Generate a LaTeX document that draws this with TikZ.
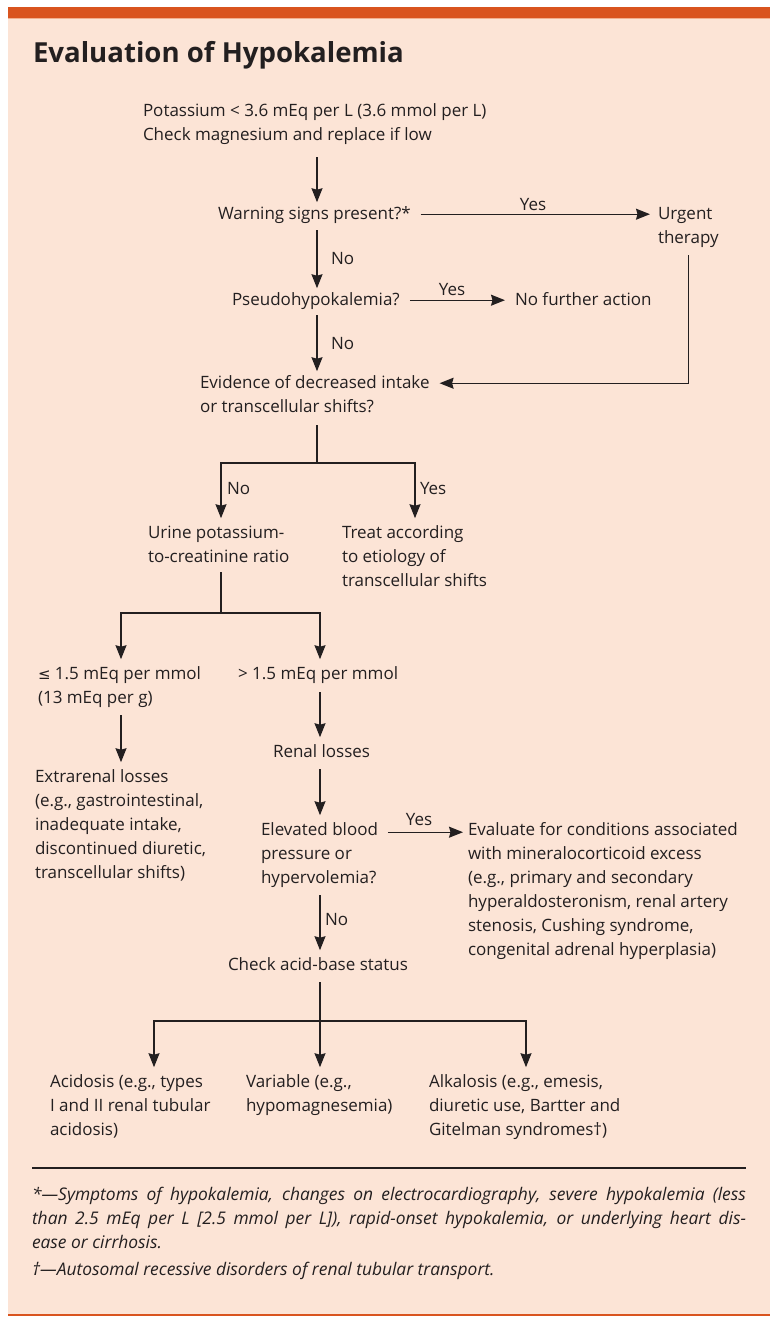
\documentclass[tikz,border=0pt]{standalone}
\usepackage{fontspec}
\setmainfont{Open Sans}
\newfontfamily\dejavu{DejaVu Sans}
\usetikzlibrary{arrows.meta,calc}
\definecolor{peach}{HTML}{FCE4D6}
\definecolor{brand}{HTML}{D9541F}
\definecolor{brandlight}{HTML}{F2B08F}
\definecolor{ink}{HTML}{231F20}
\newcommand\ml[1]{\begin{tabular}[t]{@{}l@{}}#1\end{tabular}}
\begin{document}
\begin{tikzpicture}[x=1pt,y=-1pt,
  txt/.style={anchor=base west, inner sep=0pt, outer sep=0pt, text=ink, font=\fontsize{17}{24}\selectfont},
  lbl/.style={inner sep=0pt, outer sep=0pt, text=ink, font=\fontsize{17}{24}\selectfont},
  fnote/.style={txt, font=\fontsize{17.4}{24}\selectfont\itshape},
  conn/.style={draw=ink, line width=1.3pt},
  arr/.style={conn, -{Stealth[length=14pt,width=11pt,inset=1.5pt]}},
]
\useasboundingbox (0,0) rectangle (770,1317);
% background
\fill[white] (0,0) rectangle (770,1317);
\fill[peach] (8,18) rectangle (770,1314);
\fill[brand] (8,7) rectangle (770,18);
\draw[brandlight, line width=1pt] (8,18.5) -- (770,18.5);
\fill[brand] (8,1313.5) rectangle (770,1316);

% column coordinates
\coordinate (x317) at (317,0);
\coordinate (x221) at (221,0);
\coordinate (x415) at (415,0);
\coordinate (x121) at (121,0);
\coordinate (x320) at (320,0);
\coordinate (x154) at (154,0);
\coordinate (x526) at (526,0);
\coordinate (j1) at (317,463);
\coordinate (j2) at (221,613);
\coordinate (j3) at (320,1021);

% title
\node[txt, font=\fontsize{27.6}{34}\selectfont\bfseries] (title) at (33,62) {Evaluation of Hypokalemia};

% nodes
\node[txt] (p1) at (143,116) {\ml{Potassium < 3.6 mEq per L (3.6 mmol per L)\\Check magnesium and replace if low}};
\node[txt] (warn) at (218,219) {\ml{Warning signs present?*}};
\node[txt] (urgent) at (658,219) {\ml{Urgent\\therapy}};
\node[txt] (pseudo) at (232,305) {\ml{Pseudohypokalemia?}};
\node[txt] (nofurther) at (515,305) {\ml{No further action}};
\node[txt] (evid) at (200,388) {\ml{Evidence of decreased intake\\or transcellular shifts?}};
\node[txt] (urine) at (148,538) {\ml{Urine potassium-\\to-creatinine ratio}};
\node[txt] (treat) at (342,538) {\ml{Treat according\\to etiology of\\transcellular shifts}};
\node[txt] (le) at (38,679) {\ml{{\dejavu\fontsize{15}{24}\selectfont ≤} 1.5 mEq per mmol\\(13 mEq per g)}};
\node[txt] (gt) at (238,679) {\ml{> 1.5 mEq per mmol}};
\node[txt] (extra) at (35,782) {\ml{Extrarenal losses\\(e.g., gastrointestinal,\\inadequate intake,\\discontinued diuretic,\\transcellular shifts)}};
\node[txt] (renal) at (273,757) {\ml{Renal losses}};
\node[txt] (elev) at (261,835) {\ml{Elevated blood\\pressure or\\hypervolemia?}};
\node[txt] (evalu) at (468,835) {\ml{Evaluate for conditions associated\\with mineralocorticoid excess\\(e.g., primary and secondary\\hyperaldosteronism, renal artery\\stenosis, Cushing syndrome,\\congenital adrenal hyperplasia)}};
\node[txt] (acid) at (228,970) {\ml{Check acid-base status}};
\node[txt] (acidosis) at (50,1087) {\ml{Acidosis (e.g., types\\I and II renal tubular\\acidosis)}};
\node[txt] (variable) at (246,1087) {\ml{Variable (e.g.,\\hypomagnesemia)}};
\node[txt] (alkalosis) at (429,1087) {\ml{Alkalosis (e.g., emesis,\\diuretic use, Bartter and\\Gitelman syndromes†)}};

% labels
\node[lbl, anchor=base] (ly1) at (533,210) {Yes};
\node[lbl, anchor=base west] (ln1) at (331,264) {No};
\node[lbl, anchor=base] (ly2) at (452,295) {Yes};
\node[lbl, anchor=base west] (ln2) at (331,349) {No};
\node[lbl, anchor=base west] (ln3) at (227,494) {No};
\node[lbl, anchor=base west] (ly3) at (420,494) {Yes};
\node[lbl, anchor=base] (ly4) at (419,825) {Yes};
\node[lbl, anchor=base west] (ln4) at (325,925) {No};

% connectors
\draw[arr, shorten <=10pt] (p1.south -| x317) -- (warn.north -| x317);
\draw[arr, shorten <=4pt] (warn.south -| x317) -- (pseudo.north -| x317);
\draw[arr, shorten <=3pt] (pseudo.south -| x317) -- (evid.north -| x317);
\draw[arr, shorten <=10pt, shorten >=8pt] (warn.east) -- (warn.east -| urgent.west);
\draw[arr, shorten <=10pt, shorten >=10pt] (pseudo.east) -- (nofurther.west);
\draw[arr, shorten <=5pt, shorten >=10pt] (urgent.south) |- ([yshift=-12pt]evid.north east);

\draw[conn, shorten <=6pt] (evid.south -| x317) -- (j1);
\draw[arr, shorten >=3pt] (j1) -| (urine.north -| x221);
\draw[arr, shorten >=3pt] (j1) -| (treat.north -| x415);

\draw[conn, shorten <=3pt] (urine.south -| x221) -- (j2);
\draw[arr, shorten >=3pt] (j2) -| (le.north -| x121);
\draw[arr, shorten >=3pt] (j2) -| (gt.north -| x320);

\draw[arr, shorten <=5pt, shorten >=3pt] (le.south -| x121) -- (extra.north -| x121);
\draw[arr, shorten <=6pt, shorten >=3pt] (gt.south -| x320) -- (renal.north -| x320);
\draw[arr, shorten <=5pt, shorten >=3pt] (renal.south -| x320) -- (elev.north -| x320);
\draw[arr, shorten <=10pt, shorten >=5pt] ([yshift=-14pt]elev.north east) -- ([yshift=-14pt]evalu.north west);
\draw[arr, shorten <=5pt, shorten >=3pt] (elev.south -| x320) -- (acid.north -| x320);

\draw[conn, shorten <=5pt] (acid.south -| x320) -- (j3);
\draw[arr, shorten >=3pt] (j3) -| (acidosis.north -| x154);
\draw[arr, shorten >=3pt] (j3) -- (variable.north -| x320);
\draw[arr, shorten >=3pt] (j3) -| (alkalosis.north -| x526);

% footnotes
\draw[ink, line width=1.2pt] (32,1168) coordinate (r1) -- (746,1168) coordinate (r2);
\node[fnote] (fn1) at (32,1200) {\makebox[714pt][s]{*—Symptoms of hypokalemia, changes on electrocardiography, severe hypokalemia (less}};
\node[fnote] (fn2) at (32,1224) {\makebox[714pt][s]{than 2.5 mEq per L [2.5 mmol per L]), rapid-onset hypokalemia, or underlying heart dis-}};
\node[fnote] (fn3) at (32,1248) {ease or cirrhosis.};
\node[fnote] (fn4) at (32,1275) {†—Autosomal recessive disorders of renal tubular transport.};
\end{tikzpicture}
\end{document}
